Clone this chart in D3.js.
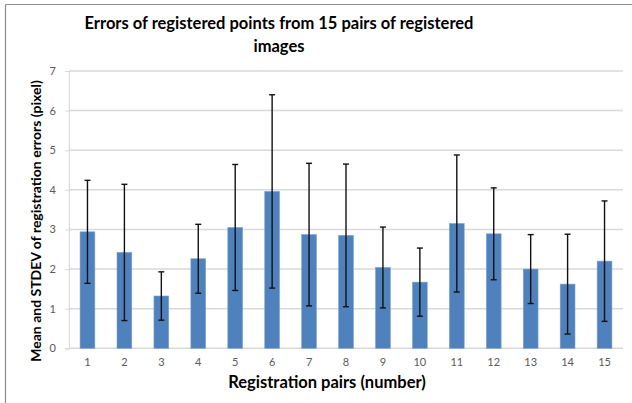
<!DOCTYPE html>
<html><head><meta charset="utf-8">
<script src="https://cdn.jsdelivr.net/npm/d3@7"></script>
<style>body{margin:0;background:#fff}svg{display:block}</style>
</head><body><svg id="c" width="632" height="403"></svg>
<script>
const categories = ["1","2","3","4","5","6","7","8","9","10","11","12","13","14","15"];
const means = [2.94,2.42,1.32,2.26,3.05,3.96,2.87,2.85,2.04,1.67,3.15,2.89,2.00,1.62,2.20];
const stdevs = [1.30,1.72,0.61,0.87,1.59,2.44,1.80,1.80,1.02,0.86,1.73,1.16,0.87,1.26,1.52];
const yTicks = [0,1,2,3,4,5,6,7];
const titleLines = ["Errors of registered points from 15 pairs of registered","images"];
const xTitle = "Registration pairs (number)";
const yTitle = "Mean and STDEV of registration errors (pixel)";

const svg = d3.select("#c");
const font = "Lato, 'Open Sans', sans-serif";
const m = {left:69, right:623, top:71, bottom:348.3};

// outer frame (left & top only visible)
svg.append("line").attr("x1",5.5).attr("x2",5.5).attr("y1",4.5).attr("y2",403).attr("stroke","#8c8c8c").attr("stroke-width",1.2);
svg.append("line").attr("x1",5.5).attr("x2",632).attr("y1",4.5).attr("y2",4.5).attr("stroke","#8c8c8c").attr("stroke-width",1.2);

const x = d3.scaleBand().domain(categories).range([m.left,m.right]).paddingInner(0.6).paddingOuter(0.3);
const y = d3.scaleLinear().domain([0,7]).range([m.bottom,m.top]);

// gridlines
svg.append("g").selectAll("line").data(yTicks.filter(d=>d>0)).join("line")
  .attr("x1",m.left).attr("x2",m.right).attr("y1",d=>y(d)).attr("y2",d=>y(d))
  .attr("stroke","#d9d9d9").attr("stroke-width",1.5);

// y axis
const ya = svg.append("g").attr("transform",`translate(${m.left},0)`)
  .call(d3.axisLeft(y).tickValues(yTicks).tickFormat(d3.format("d")).tickSize(4).tickPadding(9));
ya.select(".domain").attr("stroke","#d9d9d9").attr("stroke-width",1.2);
ya.selectAll(".tick line").attr("stroke","#d9d9d9");
ya.selectAll("text").attr("font-family",font).attr("font-size",11).attr("fill","#595959");

// x axis
const xa = svg.append("g").attr("transform",`translate(0,${m.bottom})`)
  .call(d3.axisBottom(x).tickSize(0).tickPadding(10));
xa.select(".domain").attr("stroke","#d9d9d9").attr("stroke-width",1.5).attr("d",`M${m.left},0H${m.right}`);
xa.selectAll("text").attr("font-family",font).attr("font-size",11).attr("fill","#595959");

// bars
svg.append("g").selectAll("rect").data(categories).join("rect")
  .attr("x",d=>x(d)).attr("width",x.bandwidth())
  .attr("y",(d,i)=>y(means[i])).attr("height",(d,i)=>m.bottom-y(means[i]))
  .attr("fill","#4f81bd").attr("stroke","#7ba0d0").attr("stroke-width",0.6);

// error bars
const eg = svg.append("g").attr("stroke","#111").attr("stroke-width",1.4);
categories.forEach((c,i)=>{
  const cx = x(c)+x.bandwidth()/2;
  const top = y(means[i]+stdevs[i]), bot = y(means[i]-stdevs[i]);
  eg.append("line").attr("x1",cx).attr("x2",cx).attr("y1",top).attr("y2",bot);
  eg.append("line").attr("x1",cx-3).attr("x2",cx+3).attr("y1",top).attr("y2",top);
  eg.append("line").attr("x1",cx-3).attr("x2",cx+3).attr("y1",bot).attr("y2",bot);
});

// title
svg.append("text").attr("font-family",font).attr("font-weight","bold").attr("font-size",16.5)
  .attr("text-anchor","middle").attr("fill","#000")
  .selectAll("tspan").data(titleLines).join("tspan")
  .attr("x",279).attr("y",(d,i)=>29+i*23).text(d=>d);

// x title
svg.append("text").attr("x",327).attr("y",388).attr("text-anchor","middle")
  .attr("font-family",font).attr("font-weight","bold").attr("font-size",16.5).text(xTitle);

// y title
svg.append("text").attr("transform","translate(41,221) rotate(-90)").attr("text-anchor","middle")
  .attr("font-family",font).attr("font-weight","bold").attr("font-size",14).text(yTitle);
</script></body></html>
